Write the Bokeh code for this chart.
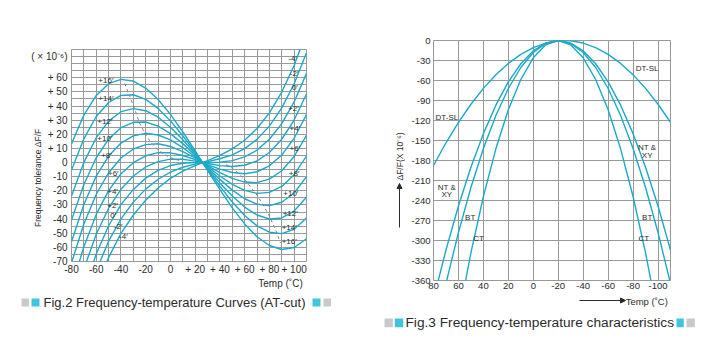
import math
from bokeh.plotting import figure
from bokeh.models import Range1d, FixedTicker, Label, Arrow, NormalHead
from bokeh.layouts import row, column
from bokeh.core.properties import value
from bokeh.embed import file_html
from bokeh.resources import INLINE

# ---------------- Fig.2 : AT-cut frequency-temperature curves ----------------
at_temps = [-80, -70, -60, -50, -40, -30, -20, -10, 0, 10, 20, 30, 40, 50, 60, 70, 80, 90, 100, 110]
at_p16 = [13.2, 33.6, 47.5, 55.8, 58.9, 57.7, 52.7, 44.6, 34.1, 21.7, 8.3, -5.6, -19.2, -32.1, -43.4, -52.5, -58.7, -61.5, -60.1, -53.9]
at_p14 = [-5.3, 16.8, 32.6, 42.5, 47.5, 48.0, 44.7, 38.3, 29.5, 19.0, 7.3, -4.9, -16.8, -27.9, -37.4, -44.8, -49.3, -50.3, -47.2, -39.2]
at_p12 = [-23.7, 0.1, 17.6, 29.3, 36.0, 38.2, 36.7, 32.1, 25.0, 16.2, 6.2, -4.2, -14.4, -23.7, -31.5, -37.1, -39.9, -39.2, -34.3, -24.6]
at_p10 = [-40.7, -15.5, 3.4, 16.6, 24.7, 28.5, 28.7, 25.8, 20.5, 13.4, 5.2, -3.5, -11.9, -19.5, -25.6, -29.5, -30.5, -28.1, -21.5, -10.0]
at_p8 = [-56.0, -29.7, -9.6, 4.6, 13.8, 18.9, 20.7, 19.5, 16.0, 10.6, 4.1, -2.8, -9.5, -15.4, -19.7, -21.8, -21.1, -16.9, -8.6, 4.6]
at_p6 = [-70.9, -43.5, -22.4, -7.2, 3.2, 9.6, 12.7, 13.3, 11.4, 7.8, 3.1, -2.1, -7.1, -11.2, -13.8, -14.2, -11.7, -5.8, 4.3, 19.2]
at_p4 = [-88.6, -59.5, -36.7, -19.9, -7.9, -0.1, 4.8, 7.0, 6.9, 5.0, 2.1, -1.4, -4.6, -7.0, -7.9, -6.5, -2.3, 5.3, 17.2, 33.9]
at_p2 = [-105.8, -75.2, -50.7, -32.3, -18.9, -9.5, -3.1, 0.7, 2.4, 2.3, 1.0, -0.7, -2.2, -2.8, -1.9, 1.1, 7.1, 16.5, 30.1, 48.5]
at_0 = [-123.1, -90.8, -64.7, -44.7, -29.8, -19.0, -11.0, -5.5, -2.1, -0.5, 0.0, 0.0, 0.2, 1.4, 4.0, 8.8, 16.5, 27.6, 42.9, 63.1]
at_m2 = [-137.0, -103.7, -76.6, -55.6, -39.8, -28.0, -18.8, -11.8, -6.7, -3.3, -1.1, 0.7, 2.7, 5.5, 9.9, 16.4, 25.8, 38.7, 55.8, 77.7]
at_m4 = [-152.8, -118.0, -89.3, -67.2, -50.1, -37.1, -26.6, -18.0, -11.2, -6.1, -2.1, 1.4, 5.1, 9.7, 15.8, 24.1, 35.2, 49.9, 68.7, 92.3]
at_series = [at_p16, at_p14, at_p12, at_p10, at_p8, at_p6, at_p4, at_p2, at_0, at_m2, at_m4]
at_names = ["+16′", "+14′", "+12′", "+10′", "+8′", "+6′", "+4′", "+2′", "0′", "-2′", "-4′"]

# locus of turning points (dashed)
locus_left_t = [-37, -33, -29, -25, -20, -15, -10, -5, 0, 5, 10]
locus_left_v = [56, 47, 38, 28, 19.5, 13.5, 9, 5.8, 3.5, 2, 1]
locus_right_t = [45, 50, 55, 60, 65, 70, 75, 80, 85, 89]
locus_right_v = [-1.5, -4, -7.5, -12, -17.5, -23, -30, -38, -47.5, -57]

x1_ticks = [-80, -60, -40, -20, 0, 20, 40, 60, 80, 100]
x1_labels = ["-80", "-60", "-40", "-20", "0", "+ 20", "+ 40", "+ 60", "+ 80", "+ 100"]
y1_ticks = [-70, -60, -50, -40, -30, -20, -10, 0, 10, 20, 30, 40, 50, 60, 75]
y1_labels = ["-70", "-60", "-50", "-40", "-30", "-20", "-10", "0", "+ 10", "+ 20", "+ 30", "+ 40", "+ 50", "+ 60", "( × 10⁻⁶)"]

lab_left_t = [-52.2, -52.2, -53.0, -53.0, -51.7, -46.2, -46.8, -46.8, -46.2, -42.2, -38.1]
lab_left_v = [58.1, 45.1, 29.1, 16.8, 5.0, -7.5, -20.3, -30.4, -37.5, -45.2, -52.3]
lab_right_t = [96.0, 96.0, 96.8, 97.3, 100.0, 100.6, 100.6, 99.5, 100.6, 100.0, 98.7]
lab_right_v = [-55.6, -45.7, -35.8, -21.7, -7.5, 9.7, 23.9, 38.0, 53.3, 62.8, 73.4]

# ---------------- Fig.3 : other cuts (parabolic) ----------------
rt_temps = [80, 70, 60, 50, 40, 30, 20, 10, 0, -10, -20, -30, -40, -50, -60, -70, -80, -90, -100, -110]
dt_sl = [-187.4, -153.4, -122.8, -95.6, -71.8, -51.4, -34.4, -20.8, -10.6, -3.8, -0.4, -0.4, -3.8, -10.6, -20.8, -34.4, -51.4, -71.8, -95.6, -122.8]
nt_xy = [-388, -314.3, -248.3, -190.1, -139.7, -97, -62.1, -34.9, -15.5, -3.9, 0, -3.9, -15.5, -34.9, -62.1, -97, -139.7, -190.1, -248.3, -314.3]
bt_cut = [-450, -364.5, -288, -220.5, -162, -112.5, -72, -40.5, -18, -4.5, 0, -4.5, -18, -40.5, -72, -112.5, -162, -220.5, -288, -364.5]
ct_cut = [-650, -526.5, -416, -318.5, -234, -162.5, -104, -58.5, -26, -6.5, 0, -6.5, -26, -58.5, -104, -162.5, -234, -318.5, -416, -526.5]

x2_ticks = [80, 60, 40, 20, 0, -20, -40, -60, -80, -100]
x2_labels = ["80", "60", "40", "20", "0", "-20", "-40", "-60", "-80", "-100"]
y2_ticks = [0, -30, -60, -90, -120, -150, -180, -210, -240, -270, -300, -330, -360]
y2_labels = ["0", "-30", "-60", "-90", "-120", "-150", "-180", "-210", "-240", "-270", "-300", "-330", "-360"]

CURVE = "#1ba9c8"
GRID = "#999999"
TXT = "#2b2b2b"
FONT = "Liberation Sans"
SQ_CYAN = "#40c4df"
SQ_GRAY = "#c9c9c9"


def no_align(f):
    if "frame_align" in f.properties():
        f.frame_align = False
    return f


def style_axes(p, size, standoff):
    for ax in (p.xaxis[0], p.yaxis[0]):
        ax.axis_line_color = None
        ax.major_tick_line_color = None
        ax.minor_tick_line_color = None
        ax.major_tick_out = 0
        ax.major_tick_in = 0
        ax.minor_tick_out = 0
        ax.major_label_text_font = FONT
        ax.major_label_text_font_size = size
        ax.major_label_text_color = TXT
        ax.major_label_standoff = standoff


def lab(p, x, y, text, size="8px", align="center"):
    p.add_layout(Label(x=x, y=y, text=text, text_font=FONT, text_font_size=size,
                       text_color=TXT, text_align=align, text_baseline="middle"))


def strip(width, height, x0, x1, y_top, y_bottom):
    f = figure(width=width, height=height, x_range=Range1d(x0, x1),
               y_range=Range1d(y_bottom, y_top), output_backend="svg",
               toolbar_location=None, title=None, min_border=0,
               x_axis_location=None, y_axis_location=None)
    f.outline_line_color = None
    f.grid.grid_line_color = None
    return no_align(f)


def stext(f, x, y, text, size, align="left", angle=0.0):
    f.text(x=[x], y=[y], text=[text], text_font=value(FONT), text_font_size=value(size),
           text_color=TXT, text_align=align, text_baseline="middle", angle=angle)


def sbox(f, l, r, t, b, color):
    f.quad(left=[l], right=[r], top=[t], bottom=[b], fill_color=color, line_color=None)


# ---------- left chart ----------
p1 = figure(width=360, height=278, x_range=Range1d(-80, 110), y_range=Range1d(-70, 80),
            output_backend="svg", toolbar_location=None, title=None,
            min_border_left=71, min_border_right=54, min_border_top=49, min_border_bottom=17)
no_align(p1)
p1.outline_line_color = GRID
p1.xaxis.ticker = FixedTicker(ticks=x1_ticks)
p1.xaxis.major_label_overrides = dict(zip(x1_ticks, x1_labels))
p1.yaxis.ticker = FixedTicker(ticks=y1_ticks)
p1.yaxis.major_label_overrides = dict(zip(y1_ticks, y1_labels))
p1.xgrid.ticker = FixedTicker(ticks=list(range(-70, 110, 10)))
p1.ygrid.ticker = FixedTicker(ticks=list(range(-65, 80, 5)))
p1.xgrid.grid_line_color = GRID
p1.ygrid.grid_line_color = GRID
style_axes(p1, "10px", 4)
p1.xaxis.major_label_standoff = 2
p1.yaxis.axis_label = "Frequency tolerance  ΔF/F" + "\u00a0" * 18
p1.yaxis.axis_label_text_font = FONT
p1.yaxis.axis_label_text_font_size = "8.5px"
p1.yaxis.axis_label_text_font_style = "normal"
p1.yaxis.axis_label_text_color = TXT
p1.yaxis.axis_label_standoff = -15

for vals in at_series:
    p1.line(at_temps, vals, line_color=CURVE, line_width=1.4)
p1.line(locus_left_t, locus_left_v, line_color="#808080", line_dash="3 3", line_width=1)
p1.line(locus_right_t, locus_right_v, line_color="#808080", line_dash="3 3", line_width=1)

for name, x, y in zip(at_names, lab_left_t, lab_left_v):
    lab(p1, x, y, name)
for name, x, y in zip(at_names, lab_right_t, lab_right_v):
    lab(p1, x, y, name)

s1 = strip(360, 75, 0, 360, 278, 353)
stext(s1, 305, 283, "Temp  (˚C)", "10px", align="right")
stext(s1, 43, 302, "Fig.2 Frequency-temperature Curves (AT-cut)", "13px")
sbox(s1, 21, 28.5, 298, 306, SQ_GRAY)
sbox(s1, 31, 39, 298, 306, SQ_CYAN)
sbox(s1, 312, 320, 298, 306, SQ_CYAN)
sbox(s1, 323, 330.5, 298, 306, SQ_GRAY)

# ---------- right chart ----------
m2 = strip(45, 353, 360, 405, 0, 353)
stext(m2, 399, 156, "ΔF/F(X 10⁻⁶)", "8.5px", align="center", angle=math.pi / 2)
m2.add_layout(Arrow(end=NormalHead(size=5, fill_color=TXT, line_color=TXT),
                    x_start=399, y_start=227, x_end=399, y_end=183,
                    line_color=TXT, line_width=1))
sbox(m2, 384, 392.3, 318, 326.7, SQ_GRAY)
sbox(m2, 394.3, 402.7, 318, 326.7, SQ_CYAN)

p2 = figure(width=315, height=295, x_range=Range1d(80, -110), y_range=Range1d(-360, 0),
            output_backend="svg", toolbar_location=None, title=None,
            min_border_left=28, min_border_right=50, min_border_top=40, min_border_bottom=15)
no_align(p2)
p2.outline_line_color = GRID
p2.xaxis.ticker = FixedTicker(ticks=x2_ticks)
p2.xaxis.major_label_overrides = dict(zip(x2_ticks, x2_labels))
p2.yaxis.ticker = FixedTicker(ticks=y2_ticks)
p2.yaxis.major_label_overrides = dict(zip(y2_ticks, y2_labels))
p2.xgrid.grid_line_color = GRID
p2.ygrid.grid_line_color = GRID
style_axes(p2, "9.5px", 3)
p2.xaxis.major_label_standoff = 2

for vals in (dt_sl, nt_xy, bt_cut, ct_cut):
    p2.line(rt_temps, vals, line_color=CURVE, line_width=1.4)

lab(p2, 69.3, -115, "DT-SL")
lab(p2, -91.3, -42.5, "DT-SL")
lab(p2, 69.3, -220, "NT &")
lab(p2, 69.3, -231.5, "XY")
lab(p2, -91.3, -160, "NT &")
lab(p2, -91.3, -172.5, "XY")
lab(p2, 50.6, -265, "BT")
lab(p2, -91.3, -265, "BT")
lab(p2, 43.9, -296.5, "CT")
lab(p2, -88.6, -296.5, "CT")

s2 = strip(315, 58, 405, 720, 295, 353)
s2.add_layout(Arrow(end=NormalHead(size=5, fill_color=TXT, line_color=TXT),
                    x_start=579, y_start=300, x_end=625, y_end=300,
                    line_color=TXT, line_width=1))
stext(s2, 670, 300.5, "Temp  (˚C)", "9.5px", align="right")
stext(s2, 405, 322, "Fig.3 Frequency-temperature characteristics", "13.7px")
sbox(s2, 676, 683.3, 318, 326.7, SQ_CYAN)
sbox(s2, 686, 694.3, 318, 326.7, SQ_GRAY)

layout = row(column(p1, s1), m2, column(p2, s2))
open("out.html", "w").write(file_html(layout, INLINE))
